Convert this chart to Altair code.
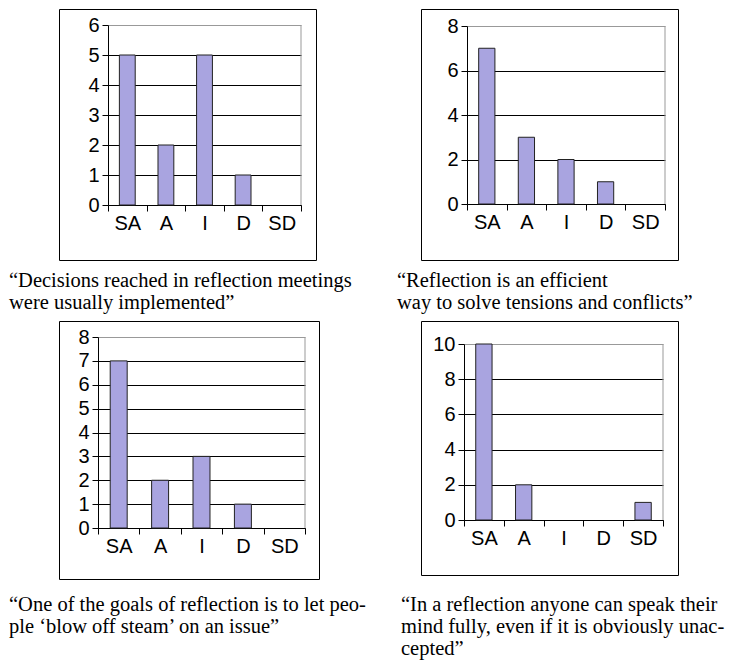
import altair as alt
import pandas as pd

categories = ["SA", "A", "I", "D", "SD"]

values_1 = [5, 2, 5, 1, 0]
values_2 = [7, 3, 2, 1, 0]
values_3 = [7, 2, 3, 1, 0]
values_4 = [10, 2, 0, 0, 1]

ymax_1, ystep_1 = 6, 1
ymax_2, ystep_2 = 8, 2
ymax_3, ystep_3 = 8, 1
ymax_4, ystep_4 = 10, 2

caption_1 = ["\u201cDecisions reached in reflection meetings", "were usually implemented\u201d"]
caption_2 = ["\u201cReflection is an efficient", "way to solve tensions and conflicts\u201d"]
caption_3 = ["\u201cOne of the goals of reflection is to let peo-", "ple \u2018blow off steam\u2019 on an issue\u201d"]
caption_4 = ["\u201cIn a reflection anyone can speak their", "mind fully, even if it is obviously unac-", "cepted\u201d"]

BAR = "#a9a4e0"
GRAY = "#999999"
SANS = "Liberation Sans"
SERIF = "Liberation Serif"


def panel(vals, ymax, step, caption, W, H, px0, px1, py0, py1, cx, cy):
    df = pd.DataFrame({"cat": categories, "n": vals})
    xs = alt.Scale(domain=categories, range=[px0, px1], paddingInner=0, paddingOuter=0)
    ys = alt.Scale(domain=[0, ymax], range=[py0, py1], nice=False, zero=True)
    ticks = list(range(0, ymax + 1, step))
    xax = alt.Axis(orient="bottom", offset=-(H - py0), tickBand="extent", labelAngle=0,
                   tickSize=6, domainColor="black", tickColor="black", domainWidth=1,
                   labelFont=SANS, labelFontSize=20, labelColor="black", labelPadding=2,
                   title=None, grid=False)
    yax = alt.Axis(orient="left", values=ticks, offset=-px0, grid=True, gridWidth=1,
                   gridColor={"condition": {"test": f"datum.value == {ymax}", "value": GRAY},
                              "value": "black"},
                   domainColor="black", tickColor="black", tickSize=6,
                   labelFont=SANS, labelFontSize=20, labelColor="black", labelPadding=3,
                   title=None)
    bars = alt.Chart(df).transform_filter("datum.n > 0").mark_bar(
        color=BAR, stroke="#222222", strokeWidth=1, width=alt.RelativeBandSize(0.41)
    ).encode(
        x=alt.X("cat:N", scale=xs, sort=categories, axis=xax),
        y=alt.Y("n:Q", scale=ys, axis=yax),
    )
    edge = alt.Chart(pd.DataFrame({"k": [0]})).mark_rule(color=GRAY, strokeWidth=1).encode(
        x=alt.X(datum="SD", type="nominal", bandPosition=1, scale=xs, axis=xax),
        y=alt.Y(datum=0, type="quantitative", scale=ys, axis=yax),
        y2=alt.Y2(datum=ymax),
    )
    cap = alt.Chart(pd.DataFrame({"k": [0]})).mark_text(
        align="left", baseline="alphabetic", font=SERIF, fontSize=20.5, lineHeight=22, color="black"
    ).encode(x=alt.value(cx), y=alt.value(cy), text=alt.value(caption))
    return alt.layer(edge, bars, cap).properties(width=W, height=H)


p1 = panel(values_1, ymax_1, ystep_1, caption_1, 257, 251, 49, 242, 196, 16, -50, 278)
p2 = panel(values_2, ymax_2, ystep_2, caption_2, 257, 251, 46, 244, 195, 17, -24, 278)
p3 = panel(values_3, ymax_3, ystep_3, caption_3, 260, 258, 39, 246, 207, 16, -50, 290)
p4 = panel(values_4, ymax_4, ystep_4, caption_4, 257, 254, 43, 242, 199, 23, -20, 290)

chart = alt.concat(p1, p2, p3, p4, columns=2, spacing={"row": 61, "column": 102}, bounds="flush").properties(
    padding=0, background="white"
).configure_view(stroke="black", strokeWidth=1)

chart.save("out.html", embed_options={"renderer": "svg", "actions": False})
